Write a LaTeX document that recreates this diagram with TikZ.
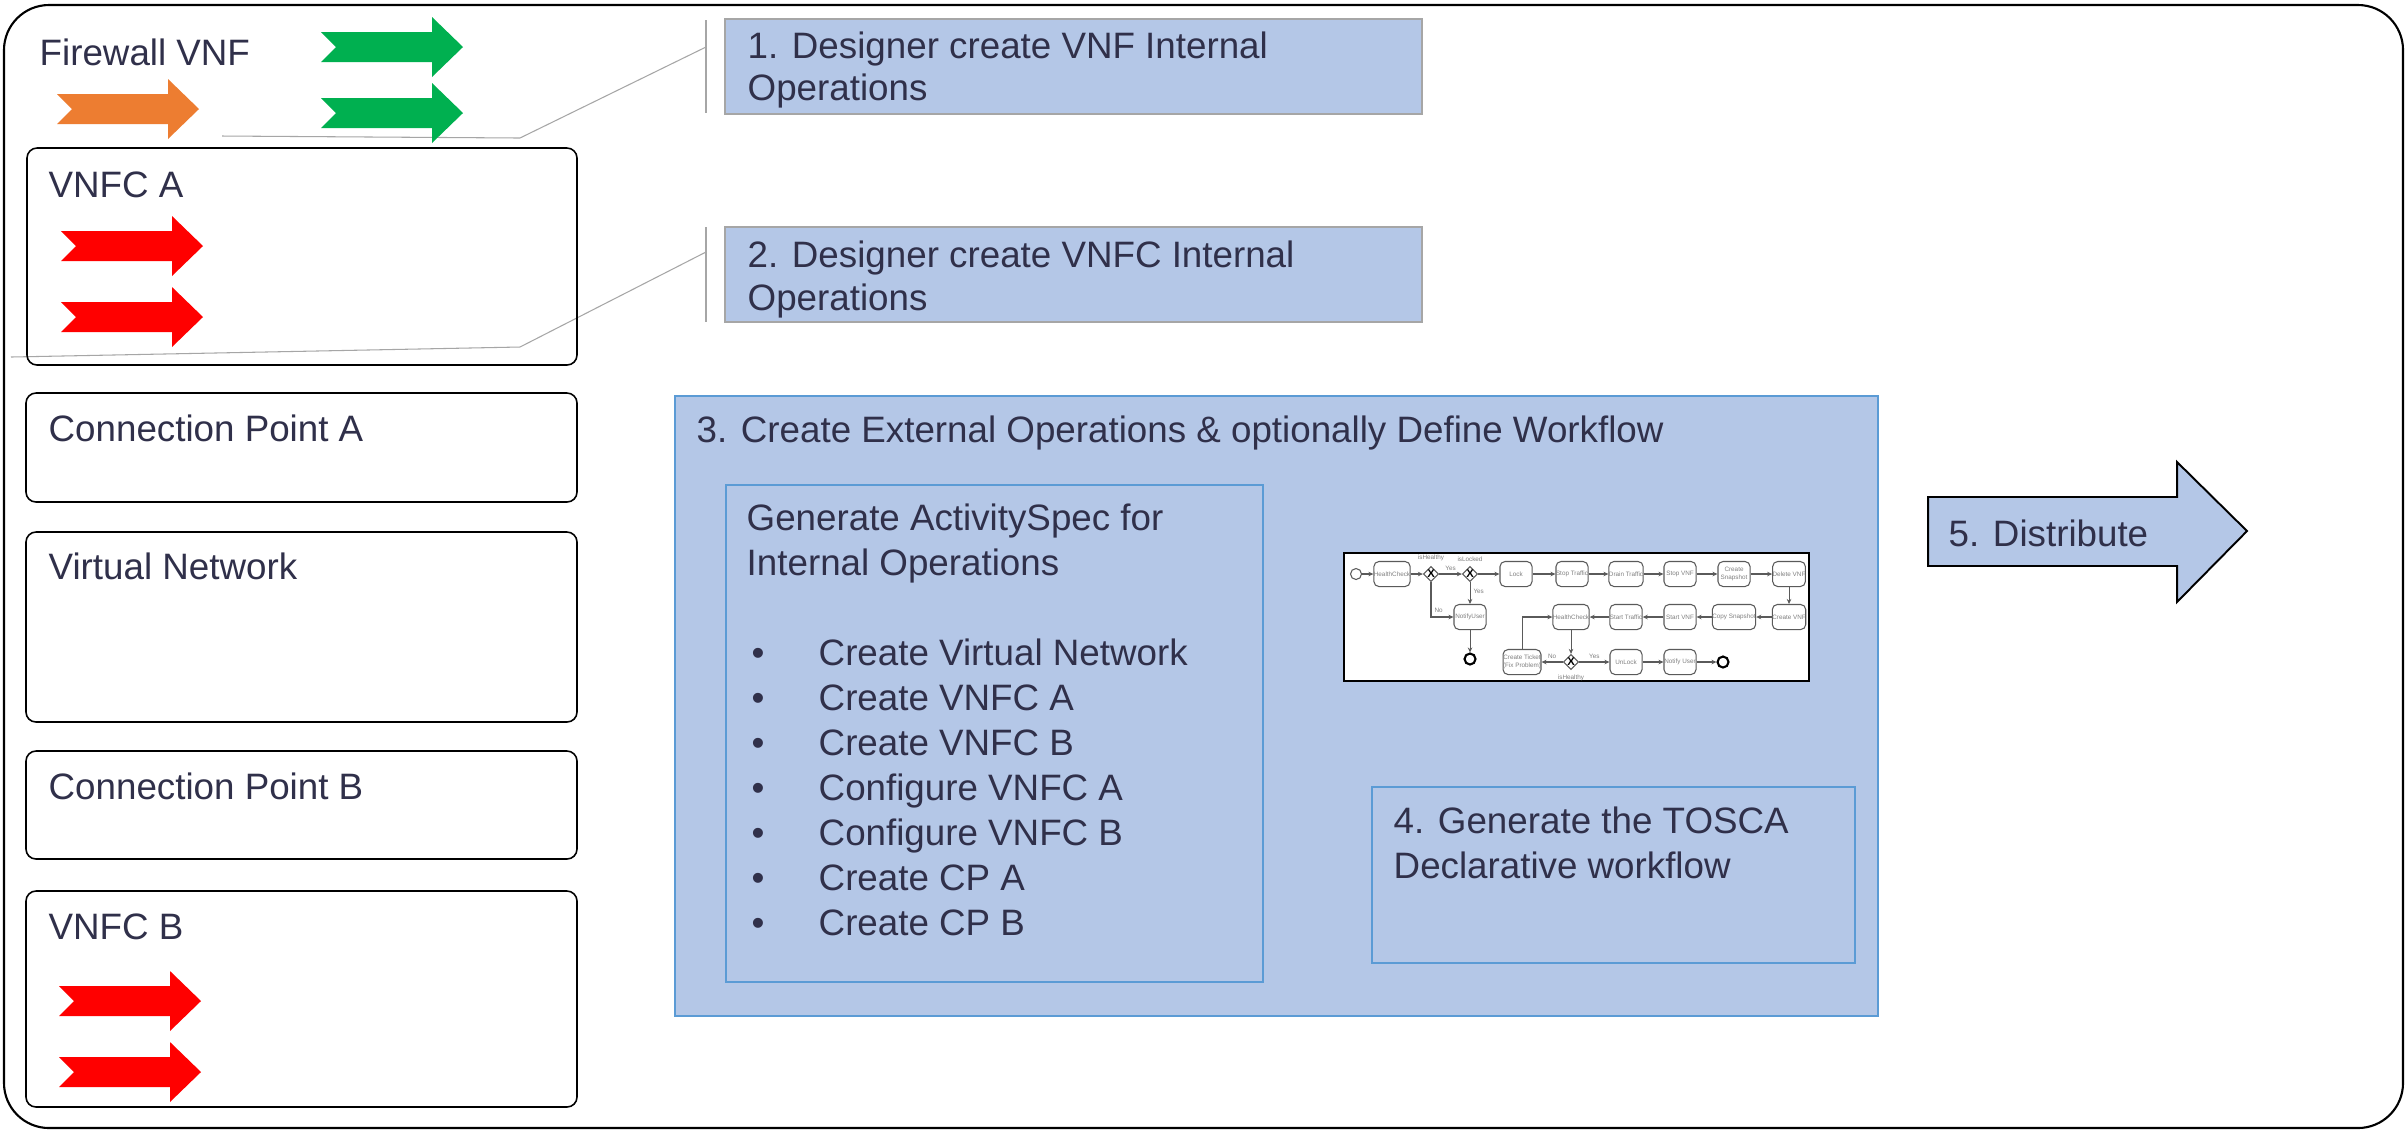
\documentclass[tikz,border=0pt]{standalone}
\usepackage{fontspec}
\setmainfont{Liberation Sans}
\usetikzlibrary{fit,shapes.geometric,arrows.meta,positioning}
\definecolor{txt}{HTML}{30304A}
\definecolor{lblue}{RGB}{180,199,231}
\definecolor{mblue}{RGB}{91,155,213}
\definecolor{lgray}{RGB}{166,166,166}
\definecolor{orng}{RGB}{237,125,49}
\definecolor{grn}{RGB}{0,176,80}
\definecolor{wfline}{RGB}{90,90,90}
\newcommand\mainfs{\fontsize{10.45}{12.5}\selectfont}
\newcommand\wffs{\fontsize{1.8}{2.1}\selectfont}
\newcommand\wfgfs{\fontsize{3.2}{3.4}\selectfont\bfseries}
\begin{document}
\begin{tikzpicture}[x=0.01cm,y=-0.01cm,
  lbl/.style={anchor=base west, inner sep=0pt, text=txt, font=\mainfs},
  cbox/.style={draw=black, line width=0.45pt, rounded corners=0.1cm, inner sep=0pt},
  opbox/.style={draw=lgray, line width=0.3pt, fill=lblue, inner sep=0pt},
  stepblue/.style={draw=mblue, line width=0.6pt, fill=lblue, inner sep=0pt},
  connline/.style={draw=lgray, line width=0.3pt},
  chev/.pic={\path[pic actions] (0,0) -- (111,0) -- (111,-15) -- (142,15) -- (111,45) -- (111,30) -- (0,30) -- (15,15) -- cycle;},
  wftask/.style={draw=wfline, line width=0.3pt, rounded corners=0.5mm, fill=white, minimum width=0.32cm, minimum height=0.25cm, inner sep=0pt, font=\wffs, text=gray, align=center},
  wfgate/.style={diamond, draw=wfline, line width=0.3pt, fill=white, minimum size=0.15cm, inner sep=0pt, font=\wfgfs},
  wfstart/.style={circle, draw=wfline, line width=0.3pt, fill=white, minimum size=0.11cm, inner sep=0pt},
  wfend/.style={circle, draw=black, line width=0.6pt, fill=white, minimum size=0.11cm, inner sep=0pt},
  wfarr/.style={draw=wfline, line width=0.3pt, -{Stealth[length=0.5mm,width=0.45mm]}},
  wflbl/.style={font=\wffs, text=gray, inner sep=0pt}
]
\useasboundingbox (0,0) rectangle (2407,1132);
\fill[white] (0,0) rectangle (2407,1132);

% outer frame
\node[fit={(4,5)(2403,1128)}, inner sep=0pt, draw=black, line width=0.6pt, rounded corners=0.45cm] (frame) {};

% gray leader lines
\coordinate (l1a) at (222,136);
\coordinate (l1b) at (520,138);
\coordinate (l1c) at (706,47);
\coordinate (l2a) at (11,357);
\coordinate (l2b) at (520,347);
\coordinate (l2c) at (706,252);
\draw[connline] (l1a) -- (l1b) -- (l1c);
\draw[connline] (l2a) -- (l2b) -- (l2c);
\coordinate (v1t) at (706,20);
\coordinate (v1b) at (706,113);
\coordinate (v2t) at (706,227);
\coordinate (v2b) at (706,322);
\draw[connline] (v1t) -- (v1b);
\draw[connline] (v2t) -- (v2b);

% Firewall VNF
\node[lbl] (tfw) at (39,65) {Firewall VNF};
\pic[fill=orng] (aor) at (57,94) {chev};
\pic[fill=grn] (ag1) at (321,32) {chev};
\pic[fill=grn] (ag2) at (321,98) {chev};

% left boxes
\node[cbox, fit={(27,148)(577,365)}] (vnfca) {};
\node[lbl] (tvnfca) at (48,197) {VNFC A};
\pic[fill=red] (ar1) at (61,231) {chev};
\pic[fill=red] (ar2) at (61,302) {chev};

\node[cbox, fit={(26,393)(577,502)}] (cpa) {};
\node[lbl] (tcpa) at (48,441) {Connection Point A};

\node[cbox, fit={(26,532)(577,722)}] (vn) {};
\node[lbl] (tvn) at (48,579) {Virtual Network};

\node[cbox, fit={(26,751)(577,859)}] (cpb) {};
\node[lbl] (tcpb) at (48,799) {Connection Point B};

\node[cbox, fit={(26,891)(577,1107)}] (vnfcb) {};
\node[lbl] (tvnfcb) at (48,939) {VNFC B};
\pic[fill=red] (ar3) at (59,986) {chev};
\pic[fill=red] (ar4) at (59,1057) {chev};

% step 1 and 2
\node[opbox, fit={(725,19)(1422,114)}] (s1box) {};
\node[lbl] (s1a) at (747,58) {1. Designer create VNF Internal};
\node[lbl] (s1b) at (747,100) {Operations};
\node[opbox, fit={(725,227)(1422,322)}] (s2box) {};
\node[lbl] (s2a) at (747,267) {2. Designer create VNFC Internal};
\node[lbl] (s2b) at (747,310) {Operations};

% step 3
\node[stepblue, fit={(675,396)(1878,1016)}] (s3box) {};
\node[lbl] (s3t) at (696,442) {3. Create External Operations \& optionally Define Workflow};
\node[stepblue, fit={(726,485)(1263,982)}] (asbox) {};
\node[lbl] (as1) at (746,530) {Generate ActivitySpec for};
\node[lbl] (as2) at (746,575) {Internal Operations};
\foreach \t [count=\i] in {Create Virtual Network, Create VNFC A, Create VNFC B, Configure VNFC A, Configure VNFC B, Create CP A, Create CP B}{
  \node[lbl] (bul\i) at (751,620+45*\i) {•};
  \node[lbl] (it\i) at (818,620+45*\i) {\t};
}

% step 4
\node[stepblue, fit={(1372,787)(1855,963)}] (s4box) {};
\node[lbl] (s4a) at (1393,833) {4. Generate the TOSCA};
\node[lbl] (s4b) at (1393,878) {Declarative workflow};

% step 5 arrow
\draw[fill=lblue, draw=black, line width=0.55pt] (1928,497) -- (2177,497) -- (2177,462) -- (2247,531) -- (2177,602) -- (2177,566) -- (1928,566) -- cycle;
\node[lbl] (s5) at (1948,546) {5. Distribute};

% workflow picture
\node[fit={(1344,553)(1809,681)}, inner sep=0pt, draw=black, line width=0.6pt, fill=white] (wfimg) {};
\node[wfstart] (w0) at (1356,574) {};
\node[wftask] (w1) at (1392,574) {HealthCheck};
\node[wfgate] (g1) at (1431,574) {X};
\node[wfgate] (g2) at (1470,574) {X};
\node[wftask] (w2) at (1516,574) {Lock};
\node[wftask] (w3) at (1572,574) {Stop Traffic};
\node[wftask] (w4) at (1626,574) {Drain Traffic};
\node[wftask] (w5) at (1680,574) {Stop VNF};
\node[wftask] (w6) at (1734,574) {Create\\Snapshot};
\node[wftask] (w7) at (1789,574) {Delete VNF};
\node[wftask] (n1) at (1470,617) {NotifyUser};
\node[wftask] (h2) at (1571,617) {HealthCheck};
\node[wftask] (w8) at (1626,617) {Start Traffic};
\node[wftask] (w9) at (1680,617) {Start VNF};
\node[wftask] (w10) at (1734,617) {Copy Snapshot};
\node[wftask] (w11) at (1789,617) {Create VNF};
\node[wfend] (e1) at (1470,659) {};
\node[wftask] (ct) at (1522,662) {Create Ticket\\(Fix Problem)};
\node[wfgate] (g3) at (1571,662) {X};
\node[wftask] (ul) at (1626,662) {UnLock};
\node[wftask] (nu2) at (1680,662) {Notify User};
\node[wfend] (e2) at (1723,662) {};

\draw[wfarr] (w0) -- (w1);
\draw[wfarr] (w1) -- (g1);
\draw[wfarr] (g1) -- node[wflbl, above=0.3mm] (ly1) {Yes} (g2);
\draw[wfarr] (g2) -- (w2);
\draw[wfarr] (w2) -- (w3);
\draw[wfarr] (w3) -- (w4);
\draw[wfarr] (w4) -- (w5);
\draw[wfarr] (w5) -- (w6);
\draw[wfarr] (w6) -- (w7);
\draw[wfarr] (w7) -- (w11);
\draw[wfarr] (w11) -- (w10);
\draw[wfarr] (w10) -- (w9);
\draw[wfarr] (w9) -- (w8);
\draw[wfarr] (w8) -- (h2);
\draw[wfarr] (g1.south) |- node[wflbl, pos=0.4, right=0.3mm] (ln1) {No} (n1.west);
\draw[wfarr] (g2) -- node[wflbl, pos=0.4, right=0.3mm] (ly2) {Yes} (n1);
\draw[wfarr] (n1) -- (e1);
\draw[wfarr] (h2) -- (g3);
\draw[wfarr] (g3) -- node[wflbl, above=0.3mm] (ln2) {No} (ct);
\draw[wfarr] (g3) -- node[wflbl, above=0.3mm] (ly3) {Yes} (ul);
\draw[wfarr] (ul) -- (nu2);
\draw[wfarr] (nu2) -- (e2);
\draw[wfarr] (ct.north) |- (h2.west);
\node[wflbl, above=0.4mm of g1] (lg1) {isHealthy};
\node[wflbl, above=0.4mm of g2] (lg2) {isLocked};
\node[wflbl, below=0.4mm of g3] (lg3) {isHealthy};
\end{tikzpicture}
\end{document}
